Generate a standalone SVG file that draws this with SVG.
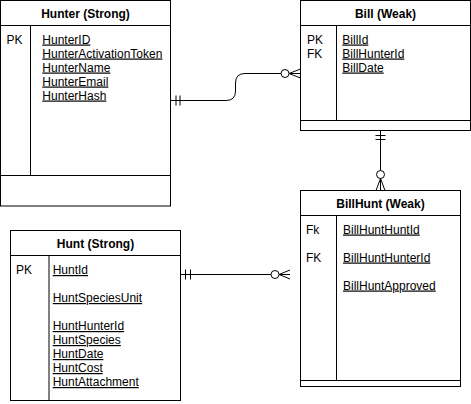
<svg xmlns="http://www.w3.org/2000/svg" width="471" height="404" viewBox="0 0 471 404">
<style>
.box{fill:#fff;stroke:#000;stroke-width:1}
.ln{fill:none;stroke:#000;stroke-width:1}
.t{font-family:"Liberation Sans",Arial,sans-serif;font-size:12px;fill:#000}
.h{font-weight:bold;text-anchor:middle}
.u{text-decoration:underline}
</style>
<rect width="471" height="404" fill="#fff"/>
<g id="hunter">
<rect class="box" x="0.5" y="0.5" width="170" height="205.5"/>
<line class="ln" x1="0.5" y1="25.5" x2="170.5" y2="25.5"/>
<line class="ln" x1="0.5" y1="175.5" x2="170.5" y2="175.5"/>
<line class="ln" x1="30.5" y1="25.5" x2="30.5" y2="175.5"/>
<text class="t h" x="85.5" y="17.5">Hunter (Strong)</text>
<text class="t" x="6.5" y="43.5">PK</text>
<text class="t u" x="42.3" y="43.5">HunterID</text>
<text class="t u" x="42.3" y="57.5">HunterActivationToken</text>
<text class="t u" x="42.3" y="71.5">HunterName</text>
<text class="t u" x="42.3" y="85.5">HunterEmail</text>
<text class="t u" x="42.3" y="99.5">HunterHash</text>
</g>
<g id="bill">
<rect class="box" x="300.5" y="0.5" width="170" height="130"/>
<line class="ln" x1="300.5" y1="25.5" x2="470.5" y2="25.5"/>
<line class="ln" x1="300.5" y1="120.5" x2="470.5" y2="120.5"/>
<line class="ln" x1="336.5" y1="25.5" x2="336.5" y2="120.5"/>
<text class="t h" x="385.5" y="17.5">Bill (Weak)</text>
<text class="t" x="307" y="43.5">PK</text>
<text class="t" x="307" y="57.5">FK</text>
<text class="t u" x="342.3" y="43.5">BillId</text>
<text class="t u" x="342.3" y="57.5">BillHunterId</text>
<text class="t u" x="342.3" y="71.5">BillDate</text>
</g>
<g id="billhunt">
<rect class="box" x="300.5" y="190.5" width="160" height="196"/>
<line class="ln" x1="300.5" y1="215.5" x2="460.5" y2="215.5"/>
<line class="ln" x1="300.5" y1="380.5" x2="460.5" y2="380.5"/>
<line class="ln" x1="336.5" y1="215.5" x2="336.5" y2="380.5"/>
<text class="t h" x="380.5" y="208">BillHunt (Weak)</text>
<text class="t" x="306" y="233.5">Fk</text>
<text class="t" x="306" y="261.5">FK</text>
<text class="t u" x="343" y="233.5">BillHuntHuntId</text>
<text class="t u" x="343" y="261.5">BillHuntHunterId</text>
<text class="t u" x="343" y="289.5">BillHuntApproved</text>
</g>
<g id="hunt">
<rect class="box" x="10.5" y="230.5" width="170" height="170"/>
<line class="ln" x1="10.5" y1="255.5" x2="180.5" y2="255.5"/>
<line class="ln" x1="49" y1="255.5" x2="49" y2="400.5"/>
<text class="t h" x="95.5" y="248">Hunt (Strong)</text>
<text class="t" x="16" y="274">PK</text>
<text class="t u" x="52.7" y="274">HuntId</text>
<text class="t u" x="52.7" y="302">HuntSpeciesUnit</text>
<text class="t u" x="52.7" y="330">HuntHunterId</text>
<text class="t u" x="52.7" y="344">HuntSpecies</text>
<text class="t u" x="52.7" y="358">HuntDate</text>
<text class="t u" x="52.7" y="372">HuntCost</text>
<text class="t u" x="52.7" y="386">HuntAttachment</text>
</g>
<g id="connectors">
<path class="ln" d="M170.5,100.5 H226 Q235.5,100.5 235.5,91 V83 Q235.5,73.5 245,73.5 H281"/>
<path class="ln" d="M176,95.5 V105.5 M180,95.5 V105.5"/>
<circle class="ln" cx="285" cy="73.5" r="4"/>
<path class="ln" d="M289,73.5 L300.5,69 M289,73.5 H300.5 M289,73.5 L300.5,78"/>
<path class="ln" d="M380.5,130.5 V170.5"/>
<path class="ln" d="M375.5,135.5 H385.5 M375.5,139.5 H385.5"/>
<circle class="ln" cx="380.5" cy="174.5" r="4"/>
<path class="ln" d="M380.5,178.5 L376,190.5 M380.5,178.5 V190.5 M380.5,178.5 L385,190.5"/>
<path class="ln" d="M180.5,274.5 H271"/>
<path class="ln" d="M185.5,269.5 V279.5 M190.5,269.5 V279.5"/>
<circle class="ln" cx="275" cy="274.5" r="4"/>
<path class="ln" d="M279,274.5 L290,270 M279,274.5 H290 M279,274.5 L290,279"/>
</g>
</svg>
